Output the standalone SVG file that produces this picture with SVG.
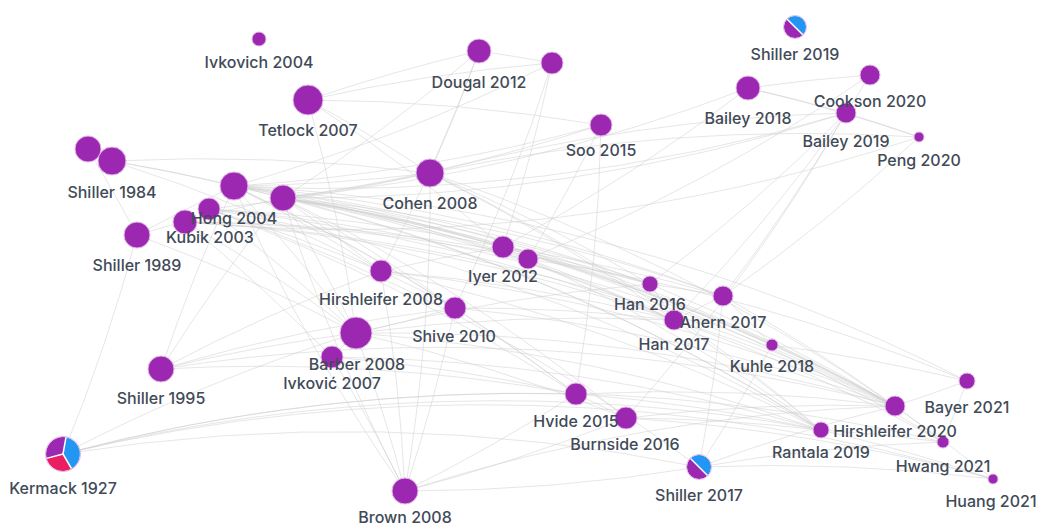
<svg xmlns="http://www.w3.org/2000/svg" width="1038" height="526" viewBox="0 0 1038 526">
<style>
.e path{fill:none;stroke:#cdcdcd;stroke-width:1;opacity:.5}
.n{fill:#9C27B0;stroke:#e2b5ea;stroke-width:1}
.b{fill:#2196F3}
.p{fill:#9C27B0}
.r{fill:#E91E63}
.sep{stroke:#fff;stroke-width:1.5;fill:none}
.ring{fill:none;stroke:#e2b5ea;stroke-width:1}
.lbl{font-family:Inter,"Noto Sans","Liberation Sans",sans-serif;font-size:16px;font-weight:500;fill:#414a57;text-anchor:middle}
</style>
<rect width="1038" height="526" fill="#fff"/>
<g id="connectors" class="e">
<path d="M308,100 A1800,1800 0 0,1 479,51"/>
<path d="M308,100 A1800,1800 0 0,1 552,63"/>
<path d="M308,100 A1800,1800 0 0,1 430,173"/>
<path d="M308,100 A1800,1800 0 0,1 601,125"/>
<path d="M308,100 A1800,1800 0 0,1 503,247"/>
<path d="M308,100 A1800,1800 0 0,1 356,333"/>
<path d="M479,51 A1800,1800 0 0,1 552,63"/>
<path d="M479,51 A1800,1800 0 0,1 430,173"/>
<path d="M479,51 A1800,1800 0 0,1 381,271"/>
<path d="M479,51 A1800,1800 0 0,1 283,198"/>
<path d="M552,63 A1800,1800 0 0,1 503,247"/>
<path d="M552,63 A1800,1800 0 0,1 455,308"/>
<path d="M552,63 A1800,1800 0 0,1 234,186"/>
<path d="M601,125 A1800,1800 0 0,1 234,186"/>
<path d="M601,125 A1800,1800 0 0,1 283,198"/>
<path d="M601,125 A1800,1800 0 0,1 576,394"/>
<path d="M601,125 A1800,1800 0 0,1 528,259"/>
<path d="M430,173 A1800,1800 0 0,1 919,137"/>
<path d="M430,173 A1800,1800 0 0,1 846,113"/>
<path d="M430,173 A1800,1800 0 0,1 234,186"/>
<path d="M430,173 A1800,1800 0 0,1 283,198"/>
<path d="M430,173 A1800,1800 0 0,1 209,209"/>
<path d="M430,173 A1800,1800 0 0,1 650,284"/>
<path d="M430,173 A1800,1800 0 0,1 674,320"/>
<path d="M430,173 A1800,1800 0 0,1 895,406"/>
<path d="M430,173 A1800,1800 0 0,1 821,430"/>
<path d="M430,173 A1800,1800 0 0,1 405,491"/>
<path d="M748,88 A1800,1800 0 0,1 870,75"/>
<path d="M748,88 A1800,1800 0 0,1 846,113"/>
<path d="M748,88 A1800,1800 0 0,1 919,137"/>
<path d="M748,88 A1800,1800 0 0,1 503,247"/>
<path d="M748,88 A1800,1800 0 0,1 283,198"/>
<path d="M870,75 A1800,1800 0 0,1 846,113"/>
<path d="M870,75 A1800,1800 0 0,1 528,259"/>
<path d="M846,113 A1800,1800 0 0,1 919,137"/>
<path d="M846,113 A1800,1800 0 0,1 650,284"/>
<path d="M846,113 A1800,1800 0 0,1 723,296"/>
<path d="M846,113 A1800,1800 0 0,1 234,186"/>
<path d="M846,113 A1800,1800 0 0,1 283,198"/>
<path d="M846,113 A1800,1800 0 0,1 674,320"/>
<path d="M846,113 A1800,1800 0 0,1 626,418"/>
<path d="M919,137 A1800,1800 0 0,1 723,296"/>
<path d="M919,137 A1800,1800 0 0,1 185,222"/>
<path d="M88,149 A1800,1800 0 0,1 112,161"/>
<path d="M88,149 A1800,1800 0 0,1 137,235"/>
<path d="M112,161 A1800,1800 0 0,1 234,186"/>
<path d="M112,161 A1800,1800 0 0,1 283,198"/>
<path d="M112,161 A1800,1800 0 0,1 430,173"/>
<path d="M112,161 A1800,1800 0 0,1 381,271"/>
<path d="M234,186 A1800,1800 0 0,1 381,271"/>
<path d="M234,186 A1800,1800 0 0,1 455,308"/>
<path d="M234,186 A1800,1800 0 0,1 356,333"/>
<path d="M234,186 A1800,1800 0 0,1 503,247"/>
<path d="M234,186 A1800,1800 0 0,1 650,284"/>
<path d="M234,186 A1800,1800 0 0,1 723,296"/>
<path d="M234,186 A1800,1800 0 0,1 674,320"/>
<path d="M234,186 A1800,1800 0 0,1 895,406"/>
<path d="M234,186 A1800,1800 0 0,1 821,430"/>
<path d="M234,186 A1800,1800 0 0,1 967,381"/>
<path d="M234,186 A1800,1800 0 0,1 576,394"/>
<path d="M283,198 A1800,1800 0 0,1 381,271"/>
<path d="M283,198 A1800,1800 0 0,1 455,308"/>
<path d="M283,198 A1800,1800 0 0,1 356,333"/>
<path d="M283,198 A1800,1800 0 0,1 503,247"/>
<path d="M283,198 A1800,1800 0 0,1 528,259"/>
<path d="M283,198 A1800,1800 0 0,1 650,284"/>
<path d="M283,198 A1800,1800 0 0,1 723,296"/>
<path d="M283,198 A1800,1800 0 0,1 674,320"/>
<path d="M283,198 A1800,1800 0 0,1 772,345"/>
<path d="M283,198 A1800,1800 0 0,1 895,406"/>
<path d="M283,198 A1800,1800 0 0,1 821,430"/>
<path d="M283,198 A1800,1800 0 0,1 626,418"/>
<path d="M283,198 A1800,1800 0 0,1 943,442"/>
<path d="M209,209 A1800,1800 0 0,1 381,271"/>
<path d="M209,209 A1800,1800 0 0,1 356,333"/>
<path d="M209,209 A1800,1800 0 0,1 503,247"/>
<path d="M209,209 A1800,1800 0 0,1 674,320"/>
<path d="M209,209 A1800,1800 0 0,1 821,430"/>
<path d="M209,209 A1800,1800 0 0,1 895,406"/>
<path d="M209,209 A1800,1800 0 0,1 576,394"/>
<path d="M209,209 A1800,1800 0 0,1 699,467"/>
<path d="M185,222 A1800,1800 0 0,1 356,333"/>
<path d="M185,222 A1800,1800 0 0,1 332,357"/>
<path d="M185,222 A1800,1800 0 0,1 528,259"/>
<path d="M185,222 A1800,1800 0 0,1 674,320"/>
<path d="M185,222 A1800,1800 0 0,1 895,406"/>
<path d="M185,222 A1800,1800 0 0,1 650,284"/>
<path d="M137,235 A1800,1800 0 0,1 63,454"/>
<path d="M137,235 A1800,1800 0 0,1 234,186"/>
<path d="M137,235 A1800,1800 0 0,1 283,198"/>
<path d="M137,235 A1800,1800 0 0,1 356,333"/>
<path d="M381,271 A1800,1800 0 0,1 455,308"/>
<path d="M381,271 A1800,1800 0 0,1 503,247"/>
<path d="M381,271 A1800,1800 0 0,1 674,320"/>
<path d="M381,271 A1800,1800 0 0,1 821,430"/>
<path d="M381,271 A1800,1800 0 0,1 405,491"/>
<path d="M381,271 A1800,1800 0 0,1 895,406"/>
<path d="M455,308 A1800,1800 0 0,1 356,333"/>
<path d="M455,308 A1800,1800 0 0,1 674,320"/>
<path d="M455,308 A1800,1800 0 0,1 576,394"/>
<path d="M455,308 A1800,1800 0 0,1 895,406"/>
<path d="M455,308 A1800,1800 0 0,1 405,491"/>
<path d="M356,333 A1800,1800 0 0,1 332,357"/>
<path d="M356,333 A1800,1800 0 0,1 674,320"/>
<path d="M356,333 A1800,1800 0 0,1 626,418"/>
<path d="M356,333 A1800,1800 0 0,1 895,406"/>
<path d="M356,333 A1800,1800 0 0,1 821,430"/>
<path d="M356,333 A1800,1800 0 0,1 405,491"/>
<path d="M356,333 A1800,1800 0 0,1 650,284"/>
<path d="M332,357 A1800,1800 0 0,1 576,394"/>
<path d="M332,357 A1800,1800 0 0,1 405,491"/>
<path d="M332,357 A1800,1800 0 0,1 821,430"/>
<path d="M503,247 A1800,1800 0 0,1 528,259"/>
<path d="M503,247 A1800,1800 0 0,1 650,284"/>
<path d="M503,247 A1800,1800 0 0,1 723,296"/>
<path d="M503,247 A1800,1800 0 0,1 895,406"/>
<path d="M503,247 A1800,1800 0 0,1 772,345"/>
<path d="M528,259 A1800,1800 0 0,1 674,320"/>
<path d="M528,259 A1800,1800 0 0,1 821,430"/>
<path d="M528,259 A1800,1800 0 0,1 967,381"/>
<path d="M650,284 A1800,1800 0 0,1 723,296"/>
<path d="M650,284 A1800,1800 0 0,1 674,320"/>
<path d="M650,284 A1800,1800 0 0,1 895,406"/>
<path d="M723,296 A1800,1800 0 0,1 674,320"/>
<path d="M723,296 A1800,1800 0 0,1 772,345"/>
<path d="M723,296 A1800,1800 0 0,1 895,406"/>
<path d="M723,296 A1800,1800 0 0,1 699,467"/>
<path d="M674,320 A1800,1800 0 0,1 895,406"/>
<path d="M674,320 A1800,1800 0 0,1 821,430"/>
<path d="M674,320 A1800,1800 0 0,1 943,442"/>
<path d="M772,345 A1800,1800 0 0,1 967,381"/>
<path d="M772,345 A1800,1800 0 0,1 895,406"/>
<path d="M772,345 A1800,1800 0 0,1 699,467"/>
<path d="M161,369 A1800,1800 0 0,1 381,271"/>
<path d="M161,369 A1800,1800 0 0,1 356,333"/>
<path d="M161,369 A1800,1800 0 0,1 234,186"/>
<path d="M161,369 A1800,1800 0 0,1 283,198"/>
<path d="M161,369 A1800,1800 0 0,1 455,308"/>
<path d="M161,369 A1800,1800 0 0,1 576,394"/>
<path d="M161,369 A1800,1800 0 0,1 895,406"/>
<path d="M63,454 A1800,1800 0 0,1 699,467"/>
<path d="M63,454 A1800,1800 0 0,1 993,479"/>
<path d="M63,454 A1800,1800 0 0,1 943,442"/>
<path d="M63,454 A1800,1800 0 0,1 821,430"/>
<path d="M63,454 A1800,1800 0 0,1 356,333"/>
<path d="M63,454 A1800,1800 0 0,1 576,394"/>
<path d="M576,394 A1800,1800 0 0,1 626,418"/>
<path d="M576,394 A1800,1800 0 0,1 895,406"/>
<path d="M576,394 A1800,1800 0 0,1 821,430"/>
<path d="M576,394 A1800,1800 0 0,1 405,491"/>
<path d="M626,418 A1800,1800 0 0,1 895,406"/>
<path d="M626,418 A1800,1800 0 0,1 821,430"/>
<path d="M626,418 A1800,1800 0 0,1 405,491"/>
<path d="M626,418 A1800,1800 0 0,1 993,479"/>
<path d="M699,467 A1800,1800 0 0,1 993,479"/>
<path d="M699,467 A1800,1800 0 0,1 943,442"/>
<path d="M699,467 A1800,1800 0 0,1 895,406"/>
<path d="M699,467 A1800,1800 0 0,1 405,491"/>
<path d="M405,491 A1800,1800 0 0,1 234,186"/>
<path d="M405,491 A1800,1800 0 0,1 283,198"/>
<path d="M405,491 A1800,1800 0 0,1 895,406"/>
<path d="M967,381 A1800,1800 0 0,1 895,406"/>
<path d="M895,406 A1800,1800 0 0,1 943,442"/>
<path d="M895,406 A1800,1800 0 0,1 993,479"/>
<path d="M821,430 A1800,1800 0 0,1 943,442"/>
<path d="M821,430 A1800,1800 0 0,1 993,479"/>
<path d="M967,381 A1800,1800 0 0,1 943,442"/>
</g>
<g id="nodes">
<g id="node-n17"><circle class="n" cx="185" cy="222" r="12"/></g>
<g id="node-kubik-2003"><circle class="n" cx="209" cy="209" r="11"/><text class="lbl" x="210" y="243">Kubik 2003</text></g>
<g id="node-hong-2004"><circle class="n" cx="234" cy="186" r="14"/><text class="lbl" x="234" y="224">Hong 2004</text></g>
<g id="node-n15"><circle class="n" cx="283" cy="198" r="13"/></g>
<g id="node-ivkovich-2004"><circle class="n" cx="259" cy="39" r="7"/><text class="lbl" x="259" y="68">Ivkovich 2004</text></g>
<g id="node-tetlock-2007"><circle class="n" cx="308" cy="100" r="15"/><text class="lbl" x="308" y="136">Tetlock 2007</text></g>
<g id="node-dougal-2012"><circle class="n" cx="479" cy="51" r="12"/><text class="lbl" x="479" y="88">Dougal 2012</text></g>
<g id="node-n4"><circle class="n" cx="552" cy="63" r="11"/></g>
<g id="node-soo-2015"><circle class="n" cx="601" cy="125" r="11"/><text class="lbl" x="601" y="156">Soo 2015</text></g>
<g id="node-cohen-2008"><circle class="n" cx="430" cy="173" r="14"/><text class="lbl" x="430" y="209">Cohen 2008</text></g>
<g id="node-shiller-2019"><path class="b" d="M787.2,19.2 A11,11 0 0,1 802.8,34.8 Z"/><path class="p" d="M802.8,34.8 A11,11 0 0,1 787.2,19.2 Z"/><line class="sep" x1="787.2" y1="19.2" x2="802.8" y2="34.8"/><circle class="ring" cx="795" cy="27" r="11.5"/><text class="lbl" x="795" y="60">Shiller 2019</text></g>
<g id="node-bailey-2018"><circle class="n" cx="748" cy="88" r="12"/><text class="lbl" x="748" y="124">Bailey 2018</text></g>
<g id="node-bailey-2019"><circle class="n" cx="846" cy="113" r="10"/><text class="lbl" x="846" y="147">Bailey 2019</text></g>
<g id="node-cookson-2020"><circle class="n" cx="870" cy="75" r="10"/><text class="lbl" x="870" y="107">Cookson 2020</text></g>
<g id="node-peng-2020"><circle class="n" cx="919" cy="137" r="5"/><text class="lbl" x="919" y="166">Peng 2020</text></g>
<g id="node-n12"><circle class="n" cx="88" cy="149" r="13"/></g>
<g id="node-shiller-1984"><circle class="n" cx="112" cy="161" r="14"/><text class="lbl" x="112" y="198">Shiller 1984</text></g>
<g id="node-shiller-1989"><circle class="n" cx="137" cy="235" r="13"/><text class="lbl" x="137" y="271">Shiller 1989</text></g>
<g id="node-hirshleifer-2008"><circle class="n" cx="381" cy="271" r="11"/><text class="lbl" x="381" y="305">Hirshleifer 2008</text></g>
<g id="node-shive-2010"><circle class="n" cx="455" cy="308" r="11"/><text class="lbl" x="454" y="342">Shive 2010</text></g>
<g id="node-ivkovic-2007"><circle class="n" cx="332" cy="357" r="11"/><text class="lbl" x="332" y="389">Ivković 2007</text></g>
<g id="node-barber-2008"><circle class="n" cx="356" cy="333" r="16"/><text class="lbl" x="357" y="370">Barber 2008</text></g>
<g id="node-n24"><circle class="n" cx="528" cy="259" r="10"/></g>
<g id="node-iyer-2012"><circle class="n" cx="503" cy="247" r="11"/><text class="lbl" x="503" y="282">Iyer 2012</text></g>
<g id="node-han-2017"><circle class="n" cx="674" cy="320" r="10"/><text class="lbl" x="674" y="350">Han 2017</text></g>
<g id="node-han-2016"><circle class="n" cx="650" cy="284" r="8"/><text class="lbl" x="650" y="310">Han 2016</text></g>
<g id="node-ahern-2017"><circle class="n" cx="723" cy="296" r="10"/><text class="lbl" x="723" y="328">Ahern 2017</text></g>
<g id="node-kuhle-2018"><circle class="n" cx="772" cy="345" r="6"/><text class="lbl" x="772" y="372">Kuhle 2018</text></g>
<g id="node-shiller-1995"><circle class="n" cx="161" cy="369" r="13"/><text class="lbl" x="161" y="404">Shiller 1995</text></g>
<g id="node-kermack-1927"><path class="p" d="M63,454 L46.58,458.4 A17,17 0 0,1 65.95,437.26 Z"/><path class="b" d="M63,454 L65.95,437.26 A17,17 0 0,1 71.5,468.72 Z"/><path class="r" d="M63,454 L71.5,468.72 A17,17 0 0,1 46.58,458.4 Z"/><line class="sep" x1="63" y1="454" x2="65.95" y2="437.26"/><line class="sep" x1="63" y1="454" x2="71.5" y2="468.72"/><line class="sep" x1="63" y1="454" x2="46.58" y2="458.4"/><circle class="ring" cx="63" cy="454" r="17.5"/><text class="lbl" x="63" y="494">Kermack 1927</text></g>
<g id="node-burnside-2016"><circle class="n" cx="626" cy="418" r="11"/><text class="lbl" x="625" y="450">Burnside 2016</text></g>
<g id="node-hvide-2015"><circle class="n" cx="576" cy="394" r="11"/><text class="lbl" x="576" y="427">Hvide 2015</text></g>
<g id="node-shiller-2017"><path class="b" d="M690.5,458.5 A12,12 0 0,1 707.5,475.5 Z"/><path class="p" d="M707.5,475.5 A12,12 0 0,1 690.5,458.5 Z"/><line class="sep" x1="690.5" y1="458.5" x2="707.5" y2="475.5"/><circle class="ring" cx="699" cy="467" r="12.5"/><text class="lbl" x="699" y="501">Shiller 2017</text></g>
<g id="node-brown-2008"><circle class="n" cx="405" cy="491" r="13"/><text class="lbl" x="405" y="523">Brown 2008</text></g>
<g id="node-bayer-2021"><circle class="n" cx="967" cy="381" r="8"/><text class="lbl" x="967" y="413">Bayer 2021</text></g>
<g id="node-hwang-2021"><circle class="n" cx="943" cy="442" r="6"/><text class="lbl" x="943" y="472">Hwang 2021</text></g>
<g id="node-hirshleifer-2020"><circle class="n" cx="895" cy="406" r="10"/><text class="lbl" x="895" y="437">Hirshleifer 2020</text></g>
<g id="node-rantala-2019"><circle class="n" cx="821" cy="430" r="8"/><text class="lbl" x="821" y="458">Rantala 2019</text></g>
<g id="node-huang-2021"><circle class="n" cx="993" cy="479" r="5"/><text class="lbl" x="991" y="507">Huang 2021</text></g>
</g>
</svg>
